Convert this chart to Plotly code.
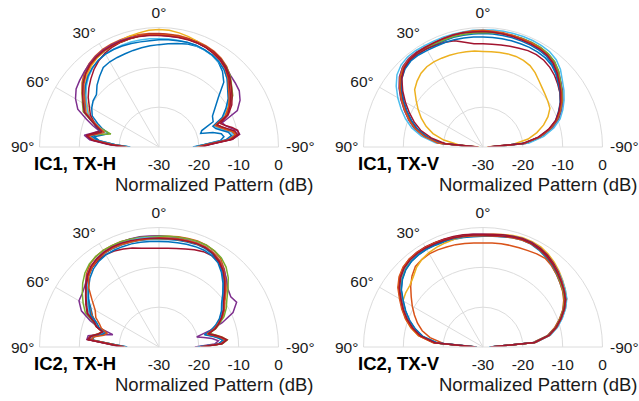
import plotly.graph_objects as go

# Angles (deg): positive = left side of the plot, 0 = boresight (top)
# TX-H panels are sampled more densely near +/-90 deg where the lobes are
THETA_H = [90, 87, 84, 81, 78, 75, 72, 69, 65, 60, 55, 50, 45, 40, 35, 30, 25, 20, 15, 10, 5, 0,
           -5, -10, -15, -20, -25, -30, -35, -40, -45, -50, -55, -60, -65,
           -69, -72, -75, -78, -81, -84, -87, -90]
THETA_V = [90, 85, 80, 75, 70, 65, 60, 55, 50, 45, 40, 35, 30, 25, 20, 15, 10, 5, 0,
           -5, -10, -15, -20, -25, -30, -35, -40, -45, -50, -55, -60, -65, -70, -75, -80, -85, -90]

IC1_TXH = [
    [-22.5,-19.0,-15.0,-13.5,-15.5,-17.0,-15.0,-13.5,-11.5,-10.5,-9.8,-9.5,-8.0,-6.8,-5.6,-5.3,-5.2,-5.1,-4.9,-4.7,-4.5,-4.3,-4.0,-3.6,-3.2,-3.0,-3.1,-3.4,-4.0,-5.2,-7.0,-10.5,-12.8,-14.5,-15.0,-18.5,-19.0,-16.0,-14.0,-13.5,-14.5,-18.5,-21.5],
    [-21.5,-17.8,-13.2,-11.6,-13.6,-15.0,-13.5,-11.8,-9.3,-8.0,-6.4,-4.8,-3.5,-2.7,-2.1,-1.7,-1.5,-1.4,-1.3,-1.3,-1.4,-1.5,-1.6,-1.6,-1.7,-1.8,-2.0,-2.3,-2.8,-3.6,-4.8,-6.3,-7.7,-9.8,-11.2,-14.5,-13.6,-12.4,-10.9,-10.3,-12.0,-17.6,-20.0],
    [-22.3,-18.5,-13.8,-12.2,-14.3,-16.0,-14.3,-12.5,-10.5,-9.2,-7.5,-5.9,-4.5,-3.5,-2.8,-2.3,-1.9,-1.6,-1.2,-0.9,-0.6,-0.5,-0.6,-0.9,-1.3,-1.8,-2.3,-2.8,-3.3,-4.1,-5.2,-6.8,-8.0,-10.0,-11.8,-15.0,-14.2,-13.0,-11.4,-10.8,-12.6,-18.2,-20.8],
    [-21.0,-17.0,-12.5,-11.0,-13.0,-14.5,-12.5,-10.5,-7.5,-5.8,-4.6,-4.0,-3.4,-2.8,-2.3,-1.9,-1.7,-1.6,-1.6,-1.7,-1.8,-1.9,-2.0,-2.0,-2.0,-2.1,-2.3,-2.6,-3.1,-3.8,-4.6,-5.0,-5.4,-6.5,-8.3,-13.0,-12.5,-11.5,-10.0,-9.5,-11.5,-17.0,-19.5],
    [-22.0,-18.0,-13.5,-12.0,-14.8,-17.5,-14.5,-12.0,-9.0,-7.8,-6.5,-5.0,-3.9,-3.1,-2.6,-2.3,-2.1,-2.0,-1.9,-1.8,-1.8,-1.8,-1.8,-1.9,-2.0,-2.1,-2.3,-2.6,-3.0,-3.7,-4.7,-6.2,-7.4,-9.5,-11.2,-14.8,-14.0,-12.8,-11.2,-10.6,-12.4,-18.0,-20.5],
    [-22.5,-18.7,-14.0,-12.4,-14.4,-15.8,-14.4,-12.7,-10.3,-9.0,-7.6,-6.2,-5.0,-4.1,-3.5,-3.1,-2.9,-2.8,-2.7,-2.7,-2.7,-2.8,-2.8,-2.8,-2.8,-2.9,-3.1,-3.4,-3.9,-4.6,-5.8,-7.2,-8.6,-10.4,-12.2,-15.2,-14.4,-13.2,-11.6,-11.0,-12.8,-18.4,-21.0],
    [-21.5,-17.5,-13.0,-11.5,-13.2,-14.8,-13.3,-12.5,-11.0,-9.8,-8.3,-7.0,-5.8,-4.6,-3.6,-2.8,-2.3,-2.0,-1.8,-1.7,-1.6,-1.6,-1.7,-1.8,-1.9,-2.0,-2.2,-2.5,-3.0,-3.8,-4.9,-6.3,-7.6,-8.9,-10.8,-13.5,-12.5,-11.0,-9.8,-9.6,-11.4,-17.0,-19.5],
    [-22.8,-19.0,-14.5,-13.0,-14.0,-15.0,-13.5,-12.0,-9.5,-8.5,-7.2,-5.9,-4.8,-4.0,-3.4,-3.1,-3.0,-3.0,-3.1,-3.2,-3.2,-3.1,-3.0,-2.9,-2.8,-2.8,-3.0,-3.3,-3.8,-4.6,-5.8,-7.5,-8.8,-10.6,-12.5,-15.5,-15.0,-13.8,-12.2,-11.6,-13.2,-18.8,-21.0],
    [-22.0,-18.2,-13.6,-12.0,-14.2,-15.8,-14.2,-12.4,-9.8,-8.6,-7.0,-5.4,-4.1,-3.2,-2.6,-2.2,-2.0,-1.9,-1.8,-1.7,-1.7,-1.7,-1.8,-1.9,-2.0,-2.1,-2.3,-2.7,-3.3,-4.2,-5.5,-7.2,-8.5,-9.8,-11.6,-14.9,-14.0,-12.8,-11.2,-10.6,-12.4,-18.0,-20.5],
    [-21.6,-17.6,-13.1,-11.6,-13.7,-15.2,-13.7,-12.0,-9.3,-8.0,-6.6,-5.1,-3.9,-3.0,-2.5,-2.1,-1.9,-1.8,-1.8,-1.8,-1.9,-2.0,-2.1,-2.1,-2.1,-2.2,-2.4,-2.8,-3.3,-4.1,-5.2,-6.8,-8.1,-9.4,-11.0,-14.4,-13.5,-12.2,-10.6,-10.0,-11.8,-17.4,-19.8],
]

IC1_TXV = [
    [-28.5,-19.5,-15.8,-13.0,-10.8,-8.8,-6.9,-5.0,-3.2,-2.0,-1.5,-1.4,-1.5,-1.6,-1.6,-1.5,-1.5,-1.5,-1.5,-1.5,-1.6,-1.6,-1.7,-1.8,-1.9,-2.2,-2.9,-4.0,-5.3,-6.4,-7.6,-9.1,-10.6,-12.8,-15.8,-19.8,-28.5],
    [-28.0,-18.5,-15.0,-12.2,-10.2,-8.3,-6.3,-4.4,-2.7,-1.5,-1.0,-0.9,-1.0,-1.0,-0.9,-0.8,-0.8,-0.8,-0.9,-1.0,-1.0,-1.1,-1.1,-1.2,-1.3,-1.6,-2.2,-3.3,-4.6,-5.7,-7.0,-8.5,-10.0,-12.3,-15.2,-19.0,-28.0],
    [-29.0,-24.0,-20.0,-17.0,-14.8,-12.9,-11.2,-9.5,-7.6,-6.6,-5.8,-5.4,-5.3,-5.4,-5.5,-5.6,-5.7,-5.8,-6.0,-6.0,-5.9,-5.8,-5.8,-6.0,-6.4,-7.2,-8.2,-9.0,-9.6,-10.1,-10.6,-12.0,-13.8,-16.0,-18.5,-22.5,-29.0],
    [-28.0,-18.8,-15.2,-12.3,-10.2,-8.2,-6.2,-4.3,-2.6,-1.5,-1.0,-0.9,-1.0,-1.1,-1.1,-1.0,-1.0,-1.0,-1.1,-1.1,-1.1,-1.1,-1.1,-1.1,-1.2,-1.5,-2.1,-3.2,-4.5,-5.6,-6.8,-8.2,-9.8,-12.0,-15.0,-19.0,-28.0],
    [-28.2,-19.2,-15.6,-12.8,-10.6,-8.6,-6.6,-4.7,-2.9,-1.8,-1.3,-1.2,-1.3,-1.4,-1.4,-1.3,-1.3,-1.3,-1.3,-1.2,-1.1,-1.0,-1.0,-1.0,-1.1,-1.4,-2.0,-3.1,-4.6,-5.8,-7.1,-8.6,-10.2,-12.5,-15.4,-19.5,-28.2],
    [-27.8,-18.0,-14.3,-11.5,-9.3,-7.3,-5.3,-3.4,-1.8,-0.9,-0.5,-0.5,-0.6,-0.7,-0.7,-0.7,-0.7,-0.6,-0.6,-0.5,-0.5,-0.5,-0.5,-0.5,-0.6,-0.8,-1.4,-2.5,-4.0,-5.2,-6.5,-7.9,-9.4,-11.6,-14.5,-18.4,-27.8],
    [-28.5,-19.5,-15.5,-12.8,-10.8,-8.8,-6.8,-4.9,-3.2,-2.2,-1.6,-1.5,-1.6,-1.8,-2.0,-2.4,-3.3,-4.0,-4.1,-4.1,-4.0,-3.8,-3.6,-3.3,-3.2,-3.4,-3.9,-4.6,-5.5,-6.4,-7.5,-8.8,-10.4,-12.7,-15.6,-19.5,-28.5],
    [-28.3,-19.6,-16.0,-13.1,-11.0,-9.0,-7.0,-5.1,-3.4,-2.3,-1.8,-1.8,-2.0,-2.1,-2.1,-2.1,-2.2,-2.3,-2.4,-2.4,-2.4,-2.4,-2.4,-2.4,-2.5,-2.7,-3.2,-4.1,-5.3,-6.3,-7.5,-8.9,-10.4,-12.6,-15.5,-19.5,-28.3],
    [-28.0,-18.6,-15.1,-12.4,-10.3,-8.4,-6.4,-4.5,-2.8,-1.7,-1.2,-1.1,-1.1,-1.1,-1.0,-0.9,-0.8,-0.7,-0.7,-0.8,-0.9,-1.0,-1.1,-1.2,-1.4,-1.8,-2.5,-3.6,-4.9,-6.0,-7.2,-8.7,-10.3,-12.6,-15.6,-19.6,-28.0],
    [-28.8,-20.5,-16.8,-13.8,-11.6,-9.6,-7.5,-5.4,-3.4,-2.0,-1.3,-1.1,-1.1,-1.1,-1.0,-0.9,-0.9,-1.0,-1.0,-1.1,-1.2,-1.3,-1.4,-1.5,-1.6,-1.9,-2.6,-3.7,-5.0,-6.2,-7.5,-9.0,-10.6,-13.0,-16.0,-20.0,-28.8],
]

IC2_TXH = [
    [-22.0,-19.0,-13.0,-13.3,-15.0,-16.0,-14.0,-13.2,-11.6,-10.2,-8.2,-6.6,-5.0,-3.9,-3.2,-2.8,-2.7,-2.7,-2.7,-2.8,-2.9,-3.0,-2.9,-2.8,-2.7,-2.6,-2.7,-3.1,-3.9,-5.3,-7.0,-8.8,-10.6,-11.7,-13.1,-14.6,-16.0,-18.0,-16.5,-15.0,-13.8,-15.0,-20.3],
    [-21.0,-18.0,-12.0,-12.5,-14.3,-15.2,-13.6,-13.0,-11.5,-9.8,-8.0,-6.0,-4.2,-3.0,-2.3,-2.0,-1.9,-1.9,-2.0,-2.1,-2.2,-2.2,-2.1,-1.9,-1.8,-1.7,-1.8,-2.2,-3.0,-4.5,-6.2,-8.0,-9.8,-11.0,-12.4,-13.8,-15.0,-17.0,-15.5,-14.0,-12.8,-14.0,-19.5],
    [-21.5,-18.5,-12.4,-12.9,-14.6,-15.6,-13.7,-12.8,-11.0,-9.7,-7.9,-6.3,-4.8,-3.7,-3.0,-2.6,-2.5,-2.5,-2.5,-2.6,-2.7,-2.8,-2.7,-2.6,-2.5,-2.4,-2.4,-2.7,-3.4,-4.8,-6.5,-8.3,-10.1,-11.2,-12.6,-14.1,-15.4,-17.3,-15.9,-14.4,-13.1,-14.4,-19.7],
    [-20.5,-17.5,-11.8,-12.0,-15.0,-18.0,-14.0,-11.5,-8.5,-6.8,-6.5,-5.8,-4.5,-3.5,-2.8,-2.4,-2.2,-2.0,-1.9,-1.9,-2.0,-2.1,-2.2,-2.2,-2.2,-2.2,-2.3,-2.7,-3.5,-4.6,-6.0,-7.4,-8.0,-7.5,-9.5,-13.0,-16.5,-20.2,-18.5,-16.5,-15.0,-16.0,-21.0],
    [-21.2,-18.2,-12.2,-12.6,-14.4,-15.4,-13.4,-12.3,-9.6,-8.0,-6.5,-5.0,-3.7,-2.8,-2.3,-2.0,-1.9,-1.9,-2.0,-2.1,-2.2,-2.2,-2.1,-2.0,-1.9,-1.8,-1.8,-2.1,-2.7,-3.8,-5.4,-7.4,-9.2,-10.5,-12.0,-13.8,-15.0,-17.0,-15.6,-14.1,-12.8,-14.1,-19.5],
    [-21.6,-18.6,-12.6,-13.0,-14.7,-15.7,-13.8,-12.9,-10.7,-9.4,-8.0,-6.4,-4.9,-3.8,-3.0,-2.6,-2.4,-2.3,-2.3,-2.3,-2.4,-2.5,-2.5,-2.4,-2.3,-2.2,-2.3,-2.7,-3.5,-5.0,-6.8,-8.6,-10.4,-11.5,-12.9,-14.3,-15.6,-17.6,-16.1,-14.6,-13.3,-14.6,-19.8],
    [-21.3,-18.3,-12.3,-12.8,-14.5,-15.4,-13.5,-12.7,-10.3,-9.0,-7.6,-6.1,-4.8,-3.9,-3.4,-3.2,-3.4,-3.8,-4.3,-4.8,-5.1,-5.2,-5.1,-4.9,-4.5,-4.0,-3.6,-3.5,-3.9,-4.9,-6.6,-8.4,-10.1,-11.2,-12.6,-14.1,-15.3,-17.3,-15.8,-14.3,-13.0,-14.3,-19.6],
    [-22.0,-19.0,-13.2,-13.5,-15.2,-16.2,-14.2,-13.3,-11.1,-9.8,-8.4,-6.9,-5.5,-4.4,-3.7,-3.3,-3.2,-3.2,-3.2,-3.3,-3.4,-3.5,-3.5,-3.4,-3.3,-3.2,-3.2,-3.5,-4.2,-5.6,-7.3,-9.1,-10.8,-11.9,-13.3,-14.8,-16.2,-18.2,-16.6,-15.1,-13.8,-15.1,-20.3],
    [-21.5,-18.8,-12.8,-13.5,-15.8,-16.5,-14.8,-14.0,-12.5,-11.5,-9.5,-7.0,-5.0,-3.8,-3.1,-2.7,-2.6,-2.6,-2.7,-2.7,-2.7,-2.6,-2.5,-2.4,-2.3,-2.2,-2.3,-2.7,-3.5,-4.8,-6.5,-8.3,-10.0,-11.1,-12.5,-14.3,-15.5,-17.5,-16.0,-14.5,-13.2,-14.5,-19.7],
    [-21.2,-18.0,-12.0,-12.6,-14.4,-15.3,-13.5,-12.5,-10.1,-8.8,-7.5,-6.0,-4.6,-3.5,-2.9,-2.5,-2.3,-2.3,-2.4,-2.5,-2.6,-2.7,-2.7,-2.6,-2.5,-2.4,-2.5,-2.9,-3.7,-5.0,-6.7,-8.5,-10.2,-11.3,-12.7,-14.0,-15.2,-17.2,-15.7,-14.2,-12.9,-14.2,-19.5],
]

IC2_TXV = [
    [-28.3,-18.4,-14.6,-12.3,-10.3,-8.5,-6.8,-4.9,-3.5,-2.5,-2.0,-1.8,-1.7,-1.8,-1.9,-2.0,-2.1,-2.2,-2.2,-2.1,-1.9,-1.6,-1.4,-1.5,-1.9,-2.5,-3.2,-4.0,-4.8,-5.5,-6.4,-7.8,-9.5,-11.3,-13.5,-17.4,-28.3],
    [-28.5,-20.0,-16.5,-14.2,-12.5,-11.0,-9.5,-8.0,-6.3,-4.8,-3.6,-3.2,-3.0,-3.1,-3.3,-3.4,-3.6,-3.8,-3.9,-3.8,-3.7,-3.6,-3.5,-3.3,-3.0,-2.8,-3.3,-4.0,-4.8,-5.6,-6.6,-7.9,-9.6,-11.4,-13.6,-17.5,-28.0],
    [-28.0,-17.5,-13.5,-11.2,-9.3,-7.8,-6.8,-6.3,-6.0,-5.2,-4.0,-3.2,-2.7,-2.4,-2.2,-2.0,-1.9,-1.8,-1.8,-1.6,-1.3,-1.0,-0.8,-0.8,-1.0,-1.5,-2.2,-3.0,-3.9,-4.8,-5.8,-7.3,-9.0,-10.8,-13.0,-16.8,-28.0],
    [-28.0,-17.8,-14.0,-11.7,-9.7,-7.9,-6.2,-4.3,-2.9,-1.9,-1.4,-1.2,-1.1,-1.2,-1.3,-1.4,-1.5,-1.6,-1.7,-1.7,-1.5,-1.3,-1.1,-1.2,-1.5,-2.0,-2.7,-3.4,-4.2,-5.0,-5.8,-7.2,-8.9,-10.7,-12.9,-16.7,-28.0],
    [-28.2,-18.2,-14.4,-12.1,-10.1,-8.3,-6.6,-4.7,-3.3,-2.3,-1.8,-1.6,-1.5,-1.5,-1.5,-1.6,-1.6,-1.7,-1.8,-1.8,-1.6,-1.4,-1.3,-1.4,-1.7,-2.3,-3.0,-3.8,-4.6,-5.4,-6.3,-7.7,-9.4,-11.1,-13.3,-17.1,-28.2],
    [-28.1,-18.1,-14.3,-11.9,-9.9,-8.1,-6.4,-4.5,-3.1,-2.1,-1.6,-1.4,-1.3,-1.4,-1.5,-1.6,-1.7,-1.8,-1.9,-1.8,-1.5,-1.2,-1.0,-1.0,-1.3,-1.8,-2.5,-3.2,-4.0,-4.8,-5.7,-7.1,-8.8,-10.6,-12.8,-16.6,-28.1],
    [-28.0,-17.6,-13.8,-11.5,-9.5,-7.7,-6.0,-4.1,-2.7,-1.7,-1.2,-1.0,-1.0,-1.1,-1.2,-1.3,-1.4,-1.6,-1.7,-1.6,-1.4,-1.2,-1.0,-1.0,-1.3,-1.8,-2.5,-3.3,-4.2,-5.1,-6.1,-7.5,-9.2,-10.9,-13.1,-16.9,-28.0],
    [-28.4,-18.5,-14.7,-12.4,-10.4,-8.6,-6.9,-5.0,-3.6,-2.6,-2.0,-1.7,-1.6,-1.6,-1.7,-1.8,-1.9,-2.0,-2.1,-2.0,-1.8,-1.5,-1.3,-1.3,-1.7,-2.3,-3.0,-3.7,-4.4,-5.1,-6.0,-7.4,-9.1,-10.9,-13.2,-17.0,-28.4],
    [-27.9,-17.4,-13.6,-11.3,-9.3,-7.5,-5.8,-3.9,-2.5,-1.6,-1.2,-1.1,-1.1,-1.2,-1.4,-1.6,-1.8,-2.0,-2.1,-2.0,-1.8,-1.6,-1.4,-1.4,-1.7,-2.2,-2.8,-3.5,-4.3,-5.1,-6.0,-7.4,-9.1,-10.9,-13.1,-16.9,-27.9],
    [-28.1,-17.9,-14.1,-11.8,-9.8,-8.0,-6.3,-4.4,-3.0,-2.0,-1.5,-1.3,-1.3,-1.4,-1.5,-1.6,-1.7,-1.8,-1.9,-1.9,-1.7,-1.4,-1.2,-1.3,-1.6,-2.1,-2.8,-3.6,-4.4,-5.2,-6.1,-7.5,-9.2,-11.0,-13.2,-17.0,-28.1],
]

TRACE_COLORS = ['#0072BD', '#D95319', '#EDB120', '#7E2F8E', '#77AC30',
                '#4DBEEE', '#A2142F', '#0072BD', '#D95319', '#A2142F']

RADIAL_TICKS = [-30, -20, -10, 0]
RADIAL_LABELS = ['-30', '-20', '-10', '0']
ANG_TICKS = [0, 30, 60, 300, 330]
ANG_LABELS = ['0°', '30°', '60°', '-60°', '-30°']

PANEL_LABELS = ['IC1, TX-H', 'IC1, TX-V', 'IC2, TX-H', 'IC2, TX-V']
AXIS_TITLE = 'Normalized Pattern (dB)'

W, H = 639, 401
R = 119.5
CENTERS = [(159, 147), (483, 147), (159, 347), (483, 347)]
GRID = '#dcdcdc'
TXT = '#1a1a1a'
FONT = 'Liberation Sans, Arial, sans-serif'
CLEAR = 'rgba(0,0,0,0)'
TICK_SIZE = 15.5
TITLE_SIZE = 18.5

fig = go.Figure()
panels = [(IC1_TXH, THETA_H), (IC1_TXV, THETA_V), (IC2_TXH, THETA_H), (IC2_TXV, THETA_V)]
annotations = []
for i, (data, theta) in enumerate(panels):
    key = 'polar' if i == 0 else f'polar{i+1}'
    for j, rr in enumerate(data):
        assert len(rr) == len(theta), (i, j, len(rr))
        fig.add_trace(go.Scatterpolar(
            r=rr, theta=theta, mode='lines', subplot=key,
            line=dict(color=TRACE_COLORS[j % len(TRACE_COLORS)], width=1.5),
            showlegend=False, hoverinfo='skip'))
    cx, cy = CENTERS[i]
    fig.update_layout(**{key: dict(
        domain=dict(x=[(cx - R) / W, (cx + R) / W], y=[1 - cy / H, 1 - (cy - R) / H]),
        sector=[0, 180],
        bgcolor='white',
        angularaxis=dict(rotation=90, direction='counterclockwise',
                         tickmode='array', tickvals=ANG_TICKS, ticktext=ANG_LABELS,
                         showline=True, linecolor=GRID, linewidth=1,
                         showgrid=True, gridcolor=GRID, gridwidth=1,
                         ticks='outside', ticklen=3, tickcolor=CLEAR,
                         tickfont=dict(family=FONT, size=TICK_SIZE, color=TXT)),
        radialaxis=dict(range=[-30, 0], tickmode='array', tickvals=RADIAL_TICKS,
                        ticktext=RADIAL_LABELS, showline=False, showgrid=True,
                        gridcolor=GRID, gridwidth=1, ticks='outside', ticklen=4,
                        tickcolor=CLEAR, angle=0, tickangle=0,
                        tickfont=dict(family=FONT, size=TICK_SIZE, color=TXT)),
    )})
    # side labels at +/-90 deg
    annotations.append(dict(x=(cx - R - 4) / W, y=1 - cy / H, xref='paper', yref='paper',
                            text='90°', showarrow=False, xanchor='right', yanchor='middle',
                            font=dict(family=FONT, size=TICK_SIZE, color=TXT)))
    annotations.append(dict(x=(cx + R + 5) / W, y=1 - cy / H, xref='paper', yref='paper',
                            text='-90°', showarrow=False, xanchor='left', yanchor='middle',
                            font=dict(family=FONT, size=TICK_SIZE, color=TXT)))
    annotations.append(dict(x=(cx - 84) / W, y=1 - (cy + 16) / H, xref='paper', yref='paper',
                            text='<b>' + PANEL_LABELS[i] + '</b>', showarrow=False,
                            xanchor='center', yanchor='middle',
                            font=dict(family=FONT, size=TITLE_SIZE, color='black')))
    annotations.append(dict(x=(cx + 55) / W, y=1 - (cy + 37) / H, xref='paper', yref='paper',
                            text=AXIS_TITLE, showarrow=False, xanchor='center', yanchor='middle',
                            font=dict(family=FONT, size=TITLE_SIZE, color=TXT)))

fig.update_layout(width=W, height=H, autosize=False,
                  margin=dict(l=0, r=0, t=0, b=0),
                  paper_bgcolor='white', plot_bgcolor='white',
                  showlegend=False, annotations=annotations,
                  font=dict(family=FONT, color=TXT))
fig.write_html('out.html', config={'displayModeBar': False},
               post_script="document.body.style.margin='0px';")
